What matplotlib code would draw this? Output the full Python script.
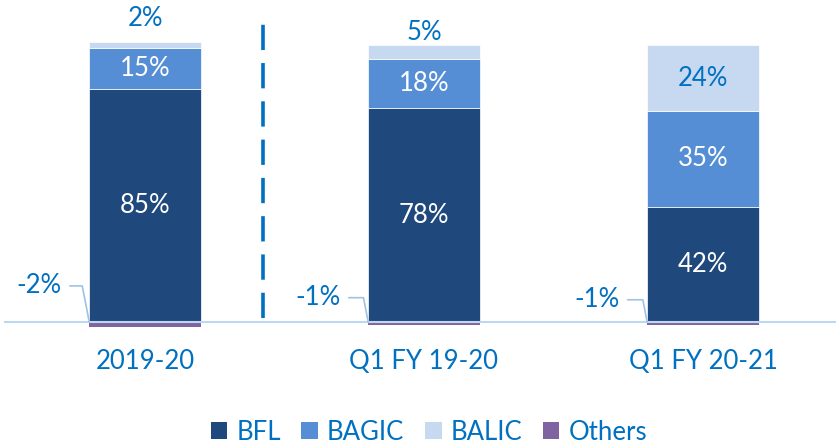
import numpy as np
import matplotlib
matplotlib.use("Agg")
import matplotlib.pyplot as plt
from matplotlib.patches import Patch

plt.rcParams['font.family'] = ['Lato', 'DejaVu Sans']

categories = ['2019-20', 'Q1 FY 19-20', 'Q1 FY 20-21']
bfl = [85, 78, 42]
bagic = [15, 18, 35]
balic = [2, 5, 24]
others = [-2, -1, -1]
series_names = ['BFL', 'BAGIC', 'BALIC', 'Others']

colors = ['#1F497D', '#558ED5', '#C6D9F1', '#8064A2']
txt_blue = '#0070C0'

fig = plt.figure(figsize=(8.36, 4.43), dpi=100)
# axes: full width, bottom just below the negative segment
ax = fig.add_axes([0.0, 113 / 443, 1.0, 330 / 443])

x = np.arange(len(categories))
w = 0.40

ax.bar(x, bfl, w, color=colors[0], edgecolor='white', linewidth=0.5, zorder=2)
ax.bar(x, bagic, w, bottom=bfl, color=colors[1], edgecolor='white', linewidth=0.5, zorder=2)
bot2 = np.array(bfl) + np.array(bagic)
ax.bar(x, balic, w, bottom=bot2, color=colors[2], edgecolor='white', linewidth=0.5, zorder=2)
ax.bar(x, others, w, color=colors[3], edgecolor='none', zorder=2)

ax.set_xlim(-0.520, 2.477)
ax.set_ylim(-2.92, 117.5)

# zero line
ax.axhline(0, xmin=5 / 836, xmax=1, color='#BDD7EE', lw=1.5, zorder=3)

# divider between annual and quarterly
ax.plot([0.423, 0.423], [1.5, 113], color=txt_blue, lw=2.6,
        dashes=(7, 3.6), zorder=1)

fs = 18.5
for i in range(len(categories)):
    ax.text(x[i], bfl[i] / 2, f'{bfl[i]}%', ha='center', va='center',
            color='white', fontsize=fs)
    ax.text(x[i], bfl[i] + bagic[i] / 2, f'{bagic[i]}%', ha='center', va='center',
            color='white', fontsize=fs)

# BALIC labels: small ones above the bar, big one inside
balic_off = [17.5, 9.5, None]
for i in range(len(categories)):
    top = bot2[i] + balic[i]
    if balic_off[i] is None:
        ax.text(x[i], bot2[i] + balic[i] / 2, f'{balic[i]}%', ha='center',
                va='center', color=txt_blue, fontsize=fs)
    else:
        ax.annotate(f'{balic[i]}%', xy=(x[i], top), xytext=(0, balic_off[i]),
                    textcoords='offset points', ha='center', va='center',
                    color=txt_blue, fontsize=fs)

# Others labels with leader lines
oth_dy = [26, 17.5, 16]
for i in range(len(categories)):
    ax.annotate(f'{others[i]}%', xy=(x[i] - w / 2, 0), xytext=(-20, oth_dy[i]),
                textcoords='offset points', ha='right', va='center',
                color=txt_blue, fontsize=fs,
                arrowprops=dict(arrowstyle='-', color='#9DC3E6', lw=1.2,
                                relpos=(1, 0.5), shrinkA=4, shrinkB=0,
                                connectionstyle='angle,angleA=0,angleB=101,rad=0'))

ax.set_xticks(x)
ax.set_xticklabels(categories, fontsize=fs, color=txt_blue)
ax.tick_params(axis='x', length=0, pad=14)
ax.set_yticks([])
for s in ax.spines.values():
    s.set_visible(False)

handles = [Patch(facecolor=c, edgecolor='none') for c in colors]
leg = fig.legend(handles, series_names, loc='center', bbox_to_anchor=(0.513, 11 / 443),
                 ncol=4, frameon=False, fontsize=fs, handlelength=0.65,
                 handleheight=0.65, handletextpad=0.35, columnspacing=0.8,
                 borderpad=0)
for t in leg.get_texts():
    t.set_color(txt_blue)

fig.savefig('out.png', dpi=100)
